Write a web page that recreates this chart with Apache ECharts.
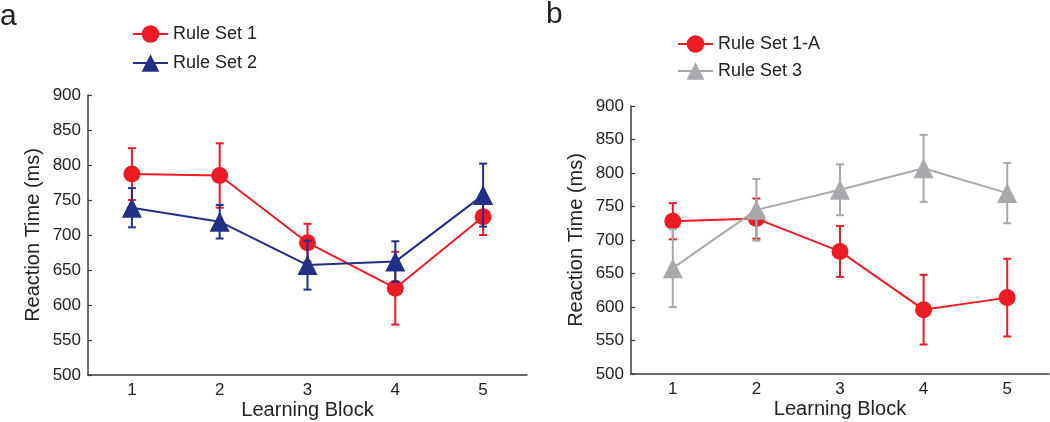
<!DOCTYPE html>
<html>
<head>
<meta charset="utf-8">
<script src="https://cdn.jsdelivr.net/npm/echarts@6/dist/echarts.min.js"></script>
<style>html,body{margin:0;padding:0;background:#fff}#c{width:1050px;height:422px}</style>
</head>
<body>
<div id="c"></div>
<script>
const blocks = ['1', '2', '3', '4', '5'];
const ruleSet1 = [787, 785, 689, 624, 726];
const ruleSet1Err = [37, 46, 27, 52, 26];
const ruleSet2 = [739, 719, 657, 662, 757];
const ruleSet2Err = [28, 24, 35, 29, 45];
const ruleSet1A = [728, 732, 683, 596, 614];
const ruleSet1AErr = [27, 30, 38, 52, 58];
const ruleSet3 = [658, 745, 775, 807, 770];
const ruleSet3Err = [58, 46, 38, 50, 45];
const yMin = 500, yMax = 900, yStep = 50;

const RED = '#ED1C24', BLUE = '#232F84', GREY = '#A7A9AC', AX = '#3a3a3a';
const FONT = '"Liberation Sans Narrow", "Liberation Sans", Arial, sans-serif';

function errRender(color) {
  return function (params, api) {
    const x = api.value(0), v = api.value(1), e = api.value(2);
    const t = api.coord([x, v + e]), b = api.coord([x, v - e]);
    const w = 4;
    const st = { stroke: color, lineWidth: 2 };
    return { type: 'group', children: [
      { type: 'line', shape: { x1: t[0], y1: t[1], x2: b[0], y2: b[1] }, style: st },
      { type: 'line', shape: { x1: t[0] - w, y1: t[1], x2: t[0] + w, y2: t[1] }, style: st },
      { type: 'line', shape: { x1: b[0] - w, y1: b[1], x2: b[0] + w, y2: b[1] }, style: st }
    ]};
  };
}
function errData(vals, errs) { return vals.map((v, i) => [i, v, errs[i]]); }

function xAxis(gi) {
  return {
    type: 'category', gridIndex: gi, data: blocks, boundaryGap: true,
    name: 'Learning Block', nameLocation: 'middle', nameGap: 25, nameMoveOverlap: false,
    nameTextStyle: { fontFamily: FONT, fontSize: 20, color: '#222' },
    axisLine: { lineStyle: { color: AX, width: 1.5 } },
    axisTick: { alignWithLabel: true, inside: true, length: 4, lineStyle: { color: AX, width: 1.2 } },
    axisLabel: { fontFamily: FONT, fontSize: 17, color: '#222', margin: 7 },
    splitLine: { show: false }
  };
}
function yAxis(gi, gap) {
  return {
    type: 'value', gridIndex: gi, min: yMin, max: yMax, interval: yStep,
    name: 'Reaction Time (ms)', nameLocation: 'middle', nameGap: gap,
    nameTextStyle: { fontFamily: FONT, fontSize: 20, color: '#222' },
    axisLine: { show: true, lineStyle: { color: AX, width: 1.5 } },
    axisTick: { show: true, inside: true, length: 4, lineStyle: { color: AX, width: 1.2 } },
    axisLabel: { fontFamily: FONT, fontSize: 17, color: '#222', margin: 7 },
    splitLine: { show: false }
  };
}
function lineSeries(name, gi, data, color, symbol, size, z) {
  return {
    type: 'line', name: name, xAxisIndex: gi, yAxisIndex: gi, data: data,
    symbol: symbol, symbolSize: size, showSymbol: true,
    lineStyle: { color: color, width: 2 }, itemStyle: { color: color },
    z: z, animation: false
  };
}
function errSeries(gi, vals, errs, color, z) {
  return {
    type: 'custom', xAxisIndex: gi, yAxisIndex: gi, data: errData(vals, errs),
    renderItem: errRender(color), z: z, animation: false, silent: true
  };
}

const chart = echarts.init(document.getElementById('c'), null, { renderer: 'canvas' });
chart.setOption({
  animation: false,
  grid: [
    { left: 88, right: 523, top: 95, bottom: 47, outerBoundsMode: 'none', containLabel: false },
    { left: 631, right: 1, top: 106, bottom: 48, outerBoundsMode: 'none', containLabel: false }
  ],
  xAxis: [xAxis(0), xAxis(1)],
  yAxis: [yAxis(0, 45), yAxis(1, 45)],
  legend: [
    { data: ['Rule Set 1', 'Rule Set 2'], orient: 'vertical', left: 132, top: 25, padding: 0, itemWidth: 35, itemHeight: 22, itemGap: 11,
      textStyle: { fontFamily: FONT, fontSize: 18, color: '#222' } },
    { data: ['Rule Set 1-A', 'Rule Set 3'], orient: 'vertical', left: 677, top: 35, padding: 0, itemWidth: 35, itemHeight: 22, itemGap: 9,
      textStyle: { fontFamily: FONT, fontSize: 18, color: '#222' } }
  ],
  graphic: [
    { type: 'text', left: 0, top: 2, style: { text: 'a', font: '30px ' + FONT, fill: '#222' } },
    { type: 'text', left: 546, top: 0, style: { text: 'b', font: '30px ' + FONT, fill: '#222' } }
  ],
  series: [
    lineSeries('Rule Set 1', 0, ruleSet1, RED, 'circle', 17, 2),
    errSeries(0, ruleSet1, ruleSet1Err, RED, 2),
    lineSeries('Rule Set 2', 0, ruleSet2, BLUE, 'triangle', 20, 4),
    errSeries(0, ruleSet2, ruleSet2Err, BLUE, 4),
    lineSeries('Rule Set 1-A', 1, ruleSet1A, RED, 'circle', 17, 2),
    errSeries(1, ruleSet1A, ruleSet1AErr, RED, 2),
    lineSeries('Rule Set 3', 1, ruleSet3, GREY, 'triangle', 20, 4),
    errSeries(1, ruleSet3, ruleSet3Err, GREY, 4)
  ]
});
</script>
</body>
</html>
